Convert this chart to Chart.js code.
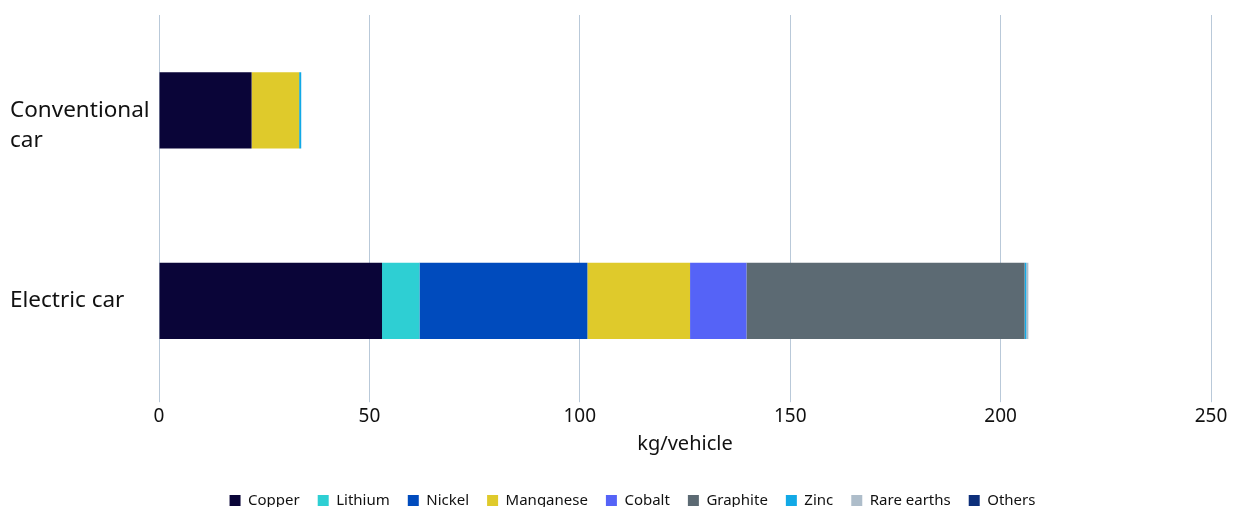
<!DOCTYPE html>
<html>
<head>
<meta charset="utf-8">
<script src="https://cdn.jsdelivr.net/npm/chart.js@4"></script>
<style>
  html, body { margin:0; padding:0; background:#fff; }
  #wrap { width:1235px; height:507px; }
</style>
</head>
<body>
<div id="wrap"><canvas id="mineralsChart"></canvas></div>
<script>
// categories and values (kg/vehicle)
const categories = [['', 'Conventional', 'car'], 'Electric car'];
const minerals = ['Copper','Lithium','Nickel','Manganese','Cobalt','Graphite','Zinc','Rare earths','Others'];
const copper     = [22.0, 53.0];
const lithium    = [0, 8.9];
const nickel     = [0, 39.9];
const manganese  = [11.3, 24.4];
const cobalt     = [0, 13.4];
const graphite   = [0, 66.1];
const zinc       = [0.5, 0.4];
const rareEarths = [0, 0.5];
const others     = [0, 0];
const xTicks = [0, 50, 100, 150, 200, 250];

const series = [copper, lithium, nickel, manganese, cobalt, graphite, zinc, rareEarths, others];
const colors = ['#0a0538','#2ecfd3','#004bbd','#dfca2b','#5563f7','#5c6a73','#12a9e6','#aebdca','#0d2f7a'];

// nudge the legend a bit to the right, like the original
const legendShift = {
  id: 'legendShift',
  afterLayout(chart){ if(chart.legend){ chart.legend.left += 44; } }
};

document.addEventListener('DOMContentLoaded', function(){
  const ctx = document.getElementById('mineralsChart');
  new Chart(ctx.getContext('2d'), {
    type: 'bar',
    data: {
      labels: categories,
      datasets: minerals.map((m, i) => ({
        label: m,
        data: series[i],
        backgroundColor: colors[i],
        borderWidth: 0,
        barPercentage: 0.8,
        categoryPercentage: 0.5
      }))
    },
    options: {
      indexAxis: 'y',
      responsive: true,
      maintainAspectRatio: false,
      animation: false,
      layout: { padding: { left: 10, right: 24, top: 15, bottom: -11 } },
      scales: {
        x: {
          stacked: true,
          min: 0, max: 250,
          afterBuildTicks: axis => { axis.ticks = xTicks.map(v => ({ value: v })); },
          grid: { color: '#b9c9d9', drawTicks: true, tickLength: 6, lineWidth: 1 },
          border: { display: false },
          ticks: { color: '#111', font: { family: 'Noto Sans', size: 19 }, padding: 3 },
          title: { display: true, text: 'kg/vehicle', color: '#111', font: { family: 'Noto Sans', size: 20 }, padding: { top: 1, bottom: 19 } }
        },
        y: {
          stacked: true,
          grid: { display: false },
          border: { display: false },
          afterFit: axis => { axis.width = 149; axis.paddingTop = 0; axis.paddingBottom = 0; },
          ticks: { color: '#111', crossAlign: 'far', font: { family: 'Noto Sans', size: 22.5, lineHeight: 1.33 }, padding: 8 }
        }
      },
      plugins: {
        legend: {
          position: 'bottom',
          labels: { boxWidth: 11, boxHeight: 11, color: '#111', padding: 18, font: { family: 'Noto Sans', size: 15 } }
        },
        tooltip: { enabled: false }
      }
    },
    plugins: [legendShift]
  });
});
</script>
</body>
</html>
